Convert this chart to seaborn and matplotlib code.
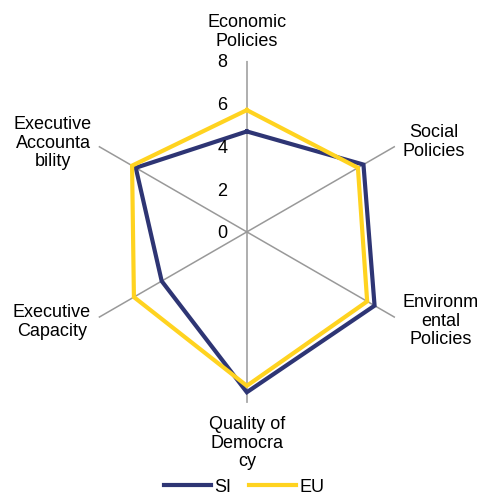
import numpy as np
import pandas as pd
import matplotlib
matplotlib.use("Agg")
import matplotlib.pyplot as plt
import seaborn as sns

# data
categories = ["Economic\nPolicies", "Social\nPolicies", "Environm\nental\nPolicies",
              "Quality of\nDemocra\ncy", "Executive\nCapacity", "Executive\nAccounta\nbility"]
si_values = [4.7, 6.3, 6.9, 7.5, 4.6, 6.0]
eu_values = [5.7, 6.0, 6.5, 7.2, 6.1, 6.2]
r_ticks = [0, 2, 4, 6, 8]
series_names = ["SI", "EU"]
series_colors = ["#2E3574", "#FFD320"]

plt.rcParams["font.family"] = ["Liberation Sans", "DejaVu Sans"]

W, H = 480, 495
fig = plt.figure(figsize=(W / 100, H / 100), dpi=100)
ax = fig.add_axes([0.158, 0.186, 0.7125, 0.691], projection="polar")
ax.set_theta_zero_location("N")
ax.set_theta_direction(-1)

n = len(categories)
angles = np.linspace(0, 2 * np.pi, n, endpoint=False)

# closed loops for each series
rows = []
for name, vals in zip(series_names, [si_values, eu_values]):
    for a, v in zip(list(angles) + [2 * np.pi], list(vals) + [vals[0]]):
        rows.append({"theta": a, "value": v, "series": name})
df = pd.DataFrame(rows)

sns.lineplot(data=df, x="theta", y="value", hue="series", hue_order=series_names,
             palette=series_colors, sort=False, estimator=None, linewidth=3.0,
             solid_joinstyle="miter", ax=ax)

ax.set_ylim(0, 8)
ax.set_xticks(angles)
ax.set_xticklabels([])
ax.set_yticks(r_ticks)
ax.set_yticklabels([])
ax.yaxis.grid(False)
ax.xaxis.grid(True, color="#999999", linewidth=1.1)
ax.spines["polar"].set_visible(False)
ax.set_xlabel("")
ax.set_ylabel("")
ax.tick_params(length=0)

# radial tick labels left of the top spoke
for t in r_ticks:
    ax.annotate(str(t), xy=(0, t), xytext=(-14, 0), textcoords="offset points",
                ha="right", va="center_baseline", fontsize=13)

# category labels (pixel centres from the reference)
label_pos = [(247, 32), (434, 142), (441, 321), (247, 443), (52, 322), (53, 143)]
for lab, (px, py) in zip(categories, label_pos):
    fig.text(px / W, 1 - py / H, lab, ha="center", va="center", fontsize=13,
             linespacing=1.15)

sns.move_legend(ax, "center", bbox_to_anchor=(0.509, 1 - 487 / H),
                bbox_transform=fig.transFigure, ncol=2, frameon=False, title=None,
                fontsize=13, handlelength=2.6, handletextpad=0.2, columnspacing=1.0)

fig.savefig("out.png", dpi=100)
